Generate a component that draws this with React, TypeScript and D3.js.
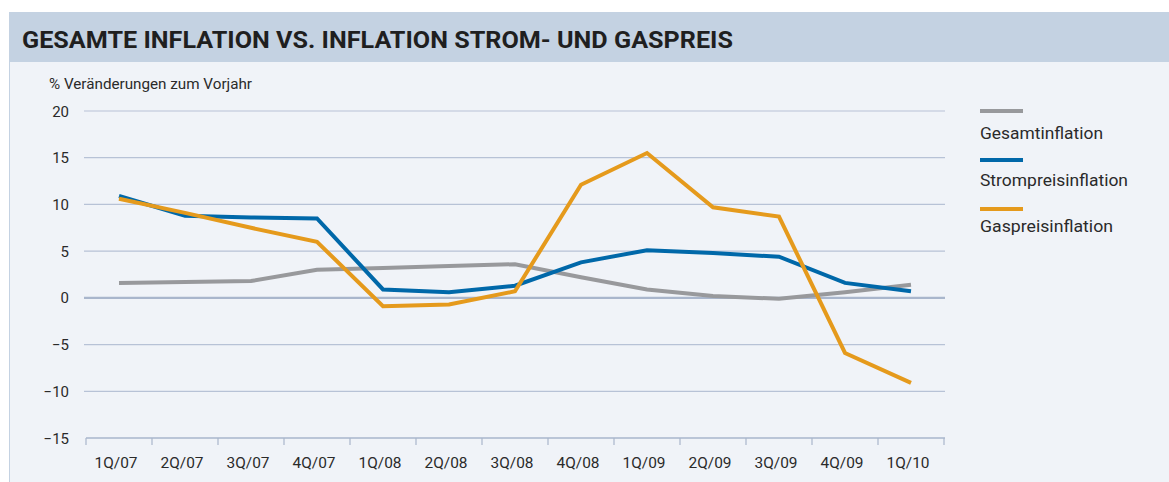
import React from "react";
import * as d3 from "d3";

const categories = ["1Q/07","2Q/07","3Q/07","4Q/07","1Q/08","2Q/08","3Q/08","4Q/08","1Q/09","2Q/09","3Q/09","4Q/09","1Q/10"];
const gesamt = [1.6, 1.7, 1.8, 3.0, 3.2, 3.4, 3.6, 2.2, 0.9, 0.2, -0.1, 0.6, 1.4];
const strom = [10.9, 8.8, 8.6, 8.5, 0.9, 0.6, 1.3, 3.8, 5.1, 4.8, 4.4, 1.6, 0.7];
const gas = [10.6, 9.1, 7.5, 6.0, -0.9, -0.7, 0.7, 12.1, 15.5, 9.7, 8.7, -5.9, -9.1];
const yTicks = [20, 15, 10, 5, 0, -5, -10, -15];
const seriesNames = ["Gesamtinflation", "Strompreisinflation", "Gaspreisinflation"];
const seriesColors = ["#98999c", "#0068a9", "#e59a1c"];
const seriesData = [gesamt, strom, gas];
const legendWidths = [123, 148, 133];

const W = 1169, H = 482;
const FONT = "Roboto, 'Open Sans', sans-serif";

export default function App() {
  const x = d3.scaleBand<string>().domain(categories).range([86, 944]);
  const y = d3.scaleLinear().domain([-15, 20]).range([438, 111]);
  const cx = (c: string) => (x(c) as number) + x.bandwidth() / 2;
  const line = d3.line<number>()
    .x((_, i) => cx(categories[i]))
    .y((d) => y(d));
  const tickXs = categories.map((c) => x(c) as number).concat([944]);

  return (
    <svg width={W} height={H} style={{ position: "absolute", left: 0, top: 0 }} fontFamily={FONT}>
      <rect x={0} y={0} width={W} height={H} fill="#ffffff" />
      <rect x={9} y={12} width={W - 9} height={50} fill="#c4d2e2" />
      <rect x={9} y={62} width={W - 9} height={H - 62} fill="#f0f3f8" />
      <line x1={9.5} y1={62} x2={9.5} y2={H} stroke="#c4d2e2" strokeWidth={1} />
      <text x={22} y={48} fontSize={23} fontWeight={700} fill="#1f1f1f" textLength={711} lengthAdjust="spacingAndGlyphs">
        GESAMTE INFLATION VS. INFLATION STROM- UND GASPREIS
      </text>
      <text x={49} y={89} fontSize={14.5} fill="#2a2a2a" textLength={203} lengthAdjust="spacingAndGlyphs">% Veränderungen zum Vorjahr</text>

      {yTicks.map((t) => (
        <g key={t}>
          {t !== -15 && (
            <line x1={84} x2={945} y1={y(t)} y2={y(t)} stroke={t === 0 ? "#a9b6cc" : "#b7c2d6"} strokeWidth={t === 0 ? 2.2 : 1.2} />
          )}
          <text x={69} y={y(t) + 5.5} fontSize={15} textAnchor="end" fill="#2a2a2a">
            {t < 0 ? "\u2212" + Math.abs(t) : t}
          </text>
        </g>
      ))}
      <line x1={86} x2={945} y1={y(-15)} y2={y(-15)} stroke="#a9b6cc" strokeWidth={1.5} />
      {tickXs.map((tx, i) => (
        <line key={i} x1={tx} x2={tx} y1={y(-15)} y2={y(-15) + 7} stroke="#a9b6cc" strokeWidth={1.2} />
      ))}
      {categories.map((c) => (
        <text key={c} x={cx(c) - 3} y={468} fontSize={15} textAnchor="middle" fill="#2a2a2a" textLength={43} lengthAdjust="spacingAndGlyphs">
          {c}
        </text>
      ))}

      {seriesData.map((d, i) => (
        <path key={i} d={line(d) as string} fill="none" stroke={seriesColors[i]} strokeWidth={4} strokeLinejoin="miter" />
      ))}

      {seriesNames.map((n, i) => (
        <g key={n}>
          <line x1={980} x2={1023} y1={111 + i * 49} y2={111 + i * 49} stroke={seriesColors[i]} strokeWidth={4} />
          <text x={980} y={139 + i * 46.5} fontSize={17} fill="#2a2a2a" textLength={legendWidths[i]} lengthAdjust="spacingAndGlyphs">{n}</text>
        </g>
      ))}
    </svg>
  );
}
